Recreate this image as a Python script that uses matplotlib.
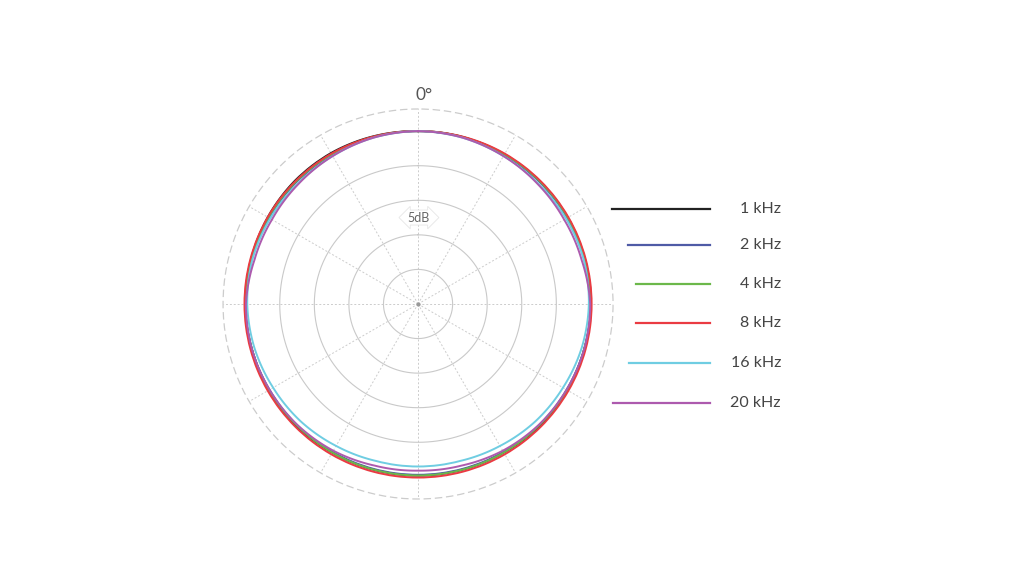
"""Polar pattern of a microphone, several frequencies"""
import numpy as np
import matplotlib
matplotlib.use("Agg")
from matplotlib import pyplot as plt
from matplotlib.lines import Line2D

plt.rcParams['font.family'] = ['Lato', 'DejaVu Sans']

# angles in degrees, 0 at the front, every 15 degrees (last point closes the loop)
angles_deg = [0, 15, 30, 45, 60, 75, 90, 105, 120, 135, 150, 165,
              180, 195, 210, 225, 240, 255, 270, 285, 300, 315, 330, 345, 360]

labels = ["1 kHz", "2 kHz", "4 kHz", "8 kHz", "16 kHz", "20 kHz"]
colors = ["#222222", "#4f5ba6", "#6cb84a", "#ea3b42", "#6fcde2", "#ad5aae"]

# level in dB relative to the front
resp_1k = [0, 0, 0, 0, 0, 0, 0, -0.1, -0.1, -0.1, -0.2, -0.2,
           -0.2, -0.2, -0.2, -0.1, -0.1, -0.1, 0, 0, 0.1, 0.2, 0.2, 0.1, 0]
resp_2k = [0, 0, -0.1, -0.1, -0.1, -0.1, 0, -0.1, -0.2, -0.2, -0.3, -0.3,
           -0.3, -0.3, -0.3, -0.2, -0.2, -0.1, 0, -0.1, -0.1, -0.1, -0.1, 0, 0]
resp_4k = [0, 0, 0, 0, 0, 0, 0, -0.1, -0.1, -0.2, -0.2, -0.2,
           -0.2, -0.2, -0.2, -0.2, -0.1, -0.1, 0, 0, 0, 0, 0, 0, 0]
resp_8k = [0, 0.05, 0.1, 0.1, 0.1, 0.1, 0.1, 0.1, 0.1, 0.1, 0.1, 0.1,
           0.1, 0.1, 0.1, 0.1, 0.1, 0.1, 0.1, 0.1, 0.1, 0.1, 0.1, 0.05, 0]
resp_16k = [0, -0.1, -0.3, -0.4, -0.3, -0.2, -0.3, -0.5, -0.8, -1.0, -1.3, -1.5,
            -1.5, -1.5, -1.3, -1.0, -0.8, -0.5, -0.3, -0.2, -0.3, -0.4, -0.3, -0.1, 0]
resp_20k = [0, -0.1, -0.3, -0.5, -0.6, -0.5, -0.1, -0.1, -0.2, -0.3, -0.5, -0.8,
            -0.9, -0.8, -0.5, -0.3, -0.2, -0.1, -0.1, -0.5, -0.6, -0.5, -0.3, -0.1, 0]
responses = [resp_1k, resp_2k, resp_4k, resp_8k, resp_16k, resp_20k]

rings = [-20, -15, -10, -5, 0]
r_min, r_max = -25, 3.2

fig = plt.figure(figsize=(10.24, 5.77), dpi=100)
ax = fig.add_axes([0.2178, 0.1352, 0.3809, 0.6759], projection="polar")
ax.set_theta_zero_location("N")
ax.set_theta_direction(-1)
ax.set_ylim(r_min, r_max)

theta = np.radians(angles_deg)
for resp, color in zip(responses, colors):
    line, = ax.plot(theta, resp, color=color, lw=1.4, zorder=3)
    # let the polar transform draw each segment as an arc, not a chord
    line.get_path()._interpolation_steps = 16

# rings and spokes drawn by hand to get the look
ax.grid(False)
ax.set_xticks([])
ax.set_yticks([])
circ = np.linspace(0, 2 * np.pi, 361)
for r in rings:
    ax.plot(circ, [r] * len(circ), color="#c9c9c9", lw=0.8, zorder=1)
for a in range(0, 360, 30):
    ax.plot([np.radians(a)] * 2, [r_min, r_max], color="#cccccc", lw=0.7,
            ls=(0, (2, 2)), zorder=1)
ax.plot([0], [r_min], marker="o", ms=2, color="#999999", zorder=2)
ax.spines["polar"].set_color("#cccccc")
ax.spines["polar"].set_linestyle((0, (5, 4)))
ax.spines["polar"].set_linewidth(0.9)

ax.text(0, -12.5, "5dB", ha="center", va="center", fontsize=9, color="#666666",
        zorder=4, bbox=dict(boxstyle="darrow,pad=0.12", fc="white", ec="#e6e6e6", lw=0.6))
fig.text(424 / 1024, 1 - 95 / 577, "0°", ha="center", va="center",
         fontsize=12.5, color="#555555")

# legend, one line and label per row
rows_y = [209, 245, 284, 323, 363, 403]
line_start = [612, 628, 636, 636, 629, 613]
for y, x0, color, label in zip(rows_y, line_start, colors, labels):
    yf = 1 - y / 577
    fig.add_artist(Line2D([x0 / 1024, 710 / 1024], [yf, yf], color=color, lw=1.6))
    fig.text(781 / 1024, yf, label, ha="right", va="center", fontsize=11.5,
             color="#444444")

fig.savefig("out.png", dpi=100, facecolor="white")
